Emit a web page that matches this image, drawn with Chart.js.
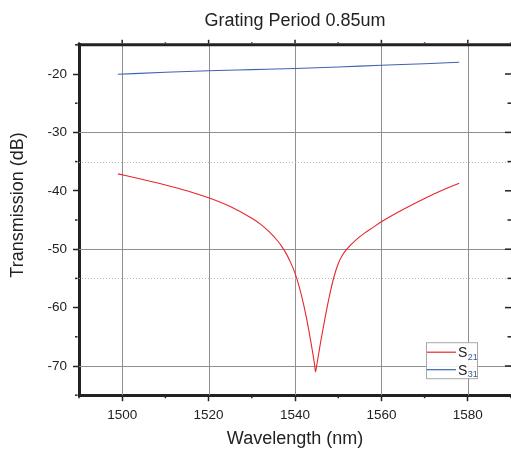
<!DOCTYPE html>
<html>
<head>
<meta charset="utf-8">
<script src="https://cdn.jsdelivr.net/npm/chart.js@4.4.0/dist/chart.umd.min.js"></script>
<style>
html, body { margin: 0; padding: 0; background: #fff; }
#wrap { width: 511px; height: 454px; overflow: hidden; }
</style>
</head>
<body>
<div id="wrap"><canvas id="chart" width="511" height="454"></canvas></div>
<script>
// S21 - drop port, notch near 1545 nm
var s21Wl = [1499, 1505, 1510, 1515, 1520, 1525, 1530, 1532, 1534, 1536, 1537, 1538, 1539, 1540, 1541, 1542, 1543, 1544, 1544.5, 1544.75, 1545, 1545.5, 1546, 1547, 1548, 1549, 1550, 1551, 1552, 1554, 1556, 1558, 1560, 1565, 1570, 1575, 1578];
var s21Db = [-37.1, -38.1, -39.0, -40.0, -41.2, -42.7, -44.7, -45.7, -47.0, -48.6, -49.6, -50.8, -52.3, -54.1, -56.5, -59.5, -63.1, -67.3, -69.6, -71.0, -70.0, -67.8, -65.6, -61.6, -57.9, -54.8, -52.5, -51.0, -50.0, -48.5, -47.3, -46.3, -45.3, -43.2, -41.3, -39.6, -38.7];

// S31 - through port
var s31Wl = [1499, 1510, 1520, 1530, 1540, 1550, 1560, 1570, 1578];
var s31Db = [-20.05, -19.7, -19.45, -19.25, -19.05, -18.8, -18.5, -18.25, -18.0];

var seriesNames = ['S21', 'S31'];
var seriesColors = ['#e8262e', '#3f63b0'];

var xRange = [1490, 1590];
var yRange = [-75, -15];
var gridX = [1500, 1520, 1540, 1560, 1580];
var gridYSolid = [-30, -50, -70];
var gridYDotted = [-35, -55];

var FONT = "'Liberation Sans', Arial, sans-serif";
var INK = '#222';

function pts(xs, ys) {
    return xs.map(function (x, i) { return { x: x, y: ys[i] }; });
}

function seg(ctx, x1, y1, x2, y2) {
    ctx.beginPath();
    ctx.moveTo(x1, y1);
    ctx.lineTo(x2, y2);
    ctx.stroke();
}

// grid, top/right frame, minor ticks and the in-plot legend
var framePlugin = {
    id: 'frame',
    beforeDatasetsDraw: function (chart) {
        var ctx = chart.ctx, a = chart.chartArea;
        var xs = chart.scales.x, ys = chart.scales.y;
        ctx.save();
        ctx.lineWidth = 1;
        ctx.strokeStyle = '#8f8f8f';
        gridX.forEach(function (v) {
            var px = Math.round(xs.getPixelForValue(v)) + 0.5;
            seg(ctx, px, a.top, px, a.bottom);
        });
        gridYSolid.forEach(function (v) {
            var py = Math.round(ys.getPixelForValue(v)) + 0.5;
            seg(ctx, a.left, py, a.right, py);
        });
        ctx.strokeStyle = '#b8b8b8';
        ctx.setLineDash([1, 2]);
        gridYDotted.forEach(function (v) {
            var py = Math.round(ys.getPixelForValue(v)) + 0.5;
            seg(ctx, a.left, py, a.right, py);
        });
        ctx.restore();
    },
    afterDraw: function (chart) {
        var ctx = chart.ctx, a = chart.chartArea;
        var xs = chart.scales.x, ys = chart.scales.y;
        ctx.save();
        ctx.strokeStyle = INK;

        // top and right axis lines (right one sits just past the edge)
        ctx.lineWidth = 3;
        seg(ctx, a.left - 1.5, a.top, a.right + 3, a.top);
        seg(ctx, a.right + 1.5, a.top, a.right + 1.5, a.bottom);

        ctx.lineWidth = 1.5;
        xs.ticks.forEach(function (t) {
            var px = xs.getPixelForValue(t.value);
            var major = t.value % 20 === 0;
            seg(ctx, px, a.top - 1.5, px, a.top - (major ? 5 : 2.5));
            if (!major) seg(ctx, px, a.bottom + 1.5, px, a.bottom + 3);
        });
        ys.ticks.forEach(function (t) {
            var py = ys.getPixelForValue(t.value);
            var major = t.value % 10 === 0;
            seg(ctx, a.right, py, a.right - (major ? 6 : 3.5), py);
            if (!major) seg(ctx, a.left - 1.5, py, a.left - 4, py);
        });

        // legend
        var lx = a.right - 85, ly = a.bottom - 53, lw = 51, lh = 36;
        ctx.fillStyle = 'rgba(255,255,255,0.9)';
        ctx.fillRect(lx, ly, lw, lh);
        ctx.strokeStyle = '#a8a8a8';
        ctx.lineWidth = 1;
        ctx.strokeRect(lx + 0.5, ly + 0.5, lw, lh);
        chart.data.datasets.forEach(function (ds, i) {
            var yy = ly + 10 + i * 17.5;
            ctx.strokeStyle = ds.borderColor;
            ctx.lineWidth = 1.2;
            seg(ctx, lx + 1, yy, lx + 30, yy);
            ctx.textBaseline = 'alphabetic';
            ctx.textAlign = 'left';
            ctx.fillStyle = INK;
            ctx.font = '14px ' + FONT;
            ctx.fillText(ds.label.charAt(0), lx + 32, yy + 5);
            var w = ctx.measureText(ds.label.charAt(0)).width;
            ctx.font = '9px ' + FONT;
            ctx.fillStyle = '#3b5b9b';
            ctx.fillText(ds.label.slice(1), lx + 32.5 + w, yy + 7.5);
        });
        ctx.restore();
    }
};

var ctx = document.getElementById('chart').getContext('2d');
var myChart = new Chart(ctx, {
    type: 'line',
    data: {
        datasets: [{
            label: seriesNames[0],
            data: pts(s21Wl, s21Db),
            borderColor: seriesColors[0],
            borderWidth: 1.1,
            pointRadius: 0,
            cubicInterpolationMode: 'monotone',
            fill: false
        }, {
            label: seriesNames[1],
            data: pts(s31Wl, s31Db),
            borderColor: seriesColors[1],
            borderWidth: 1.1,
            pointRadius: 0,
            cubicInterpolationMode: 'monotone',
            fill: false
        }]
    },
    options: {
        responsive: false,
        devicePixelRatio: 1,
        animation: false,
        layout: { padding: 0 },
        plugins: {
            legend: { display: false },
            tooltip: { enabled: false },
            title: {
                display: true,
                text: 'Grating Period 0.85um',
                fullSize: false,
                color: INK,
                font: { family: FONT, size: 18, weight: 'normal' },
                padding: { top: 10.5, bottom: 12.7 }
            }
        },
        scales: {
            x: {
                type: 'linear',
                min: xRange[0],
                max: xRange[1],
                afterFit: function (s) {
                    s.height = 58.8;
                    s.paddingLeft = 0;
                    s.paddingRight = 0;
                },
                border: { display: true, width: 3, color: INK },
                grid: {
                    drawOnChartArea: false,
                    tickLength: 6,
                    tickWidth: 1.5,
                    tickColor: function (c) { return c.tick && c.tick.value % 20 === 0 ? INK : 'rgba(0,0,0,0)'; }
                },
                ticks: {
                    stepSize: 10,
                    autoSkip: false,
                    maxRotation: 0,
                    padding: 6,
                    color: INK,
                    font: { family: FONT, size: 13.5 },
                    callback: function (v) { return v % 20 === 0 ? String(v) : ''; }
                },
                title: {
                    display: true,
                    text: 'Wavelength (nm)',
                    color: INK,
                    font: { family: FONT, size: 18 },
                    padding: { top: 0, bottom: 4.2 }
                }
            },
            y: {
                min: yRange[0],
                max: yRange[1],
                afterFit: function (s) { s.width = 79; },
                border: { display: true, width: 3, color: INK },
                grid: {
                    drawOnChartArea: false,
                    tickLength: 6,
                    tickWidth: 1.5,
                    tickColor: function (c) { return c.tick && c.tick.value % 10 === 0 ? INK : 'rgba(0,0,0,0)'; }
                },
                ticks: {
                    stepSize: 5,
                    autoSkip: false,
                    padding: 6,
                    color: INK,
                    font: { family: FONT, size: 13.5 },
                    callback: function (v) { return v % 10 === 0 ? String(v) : ''; }
                },
                title: {
                    display: true,
                    // leading spaces lift the label, as in the original figure
                    text: '      Transmission (dB)',
                    color: INK,
                    font: { family: FONT, size: 18 },
                    padding: { top: 7.2, bottom: 0 }
                }
            }
        }
    },
    plugins: [framePlugin]
});
</script>
</body>
</html>
